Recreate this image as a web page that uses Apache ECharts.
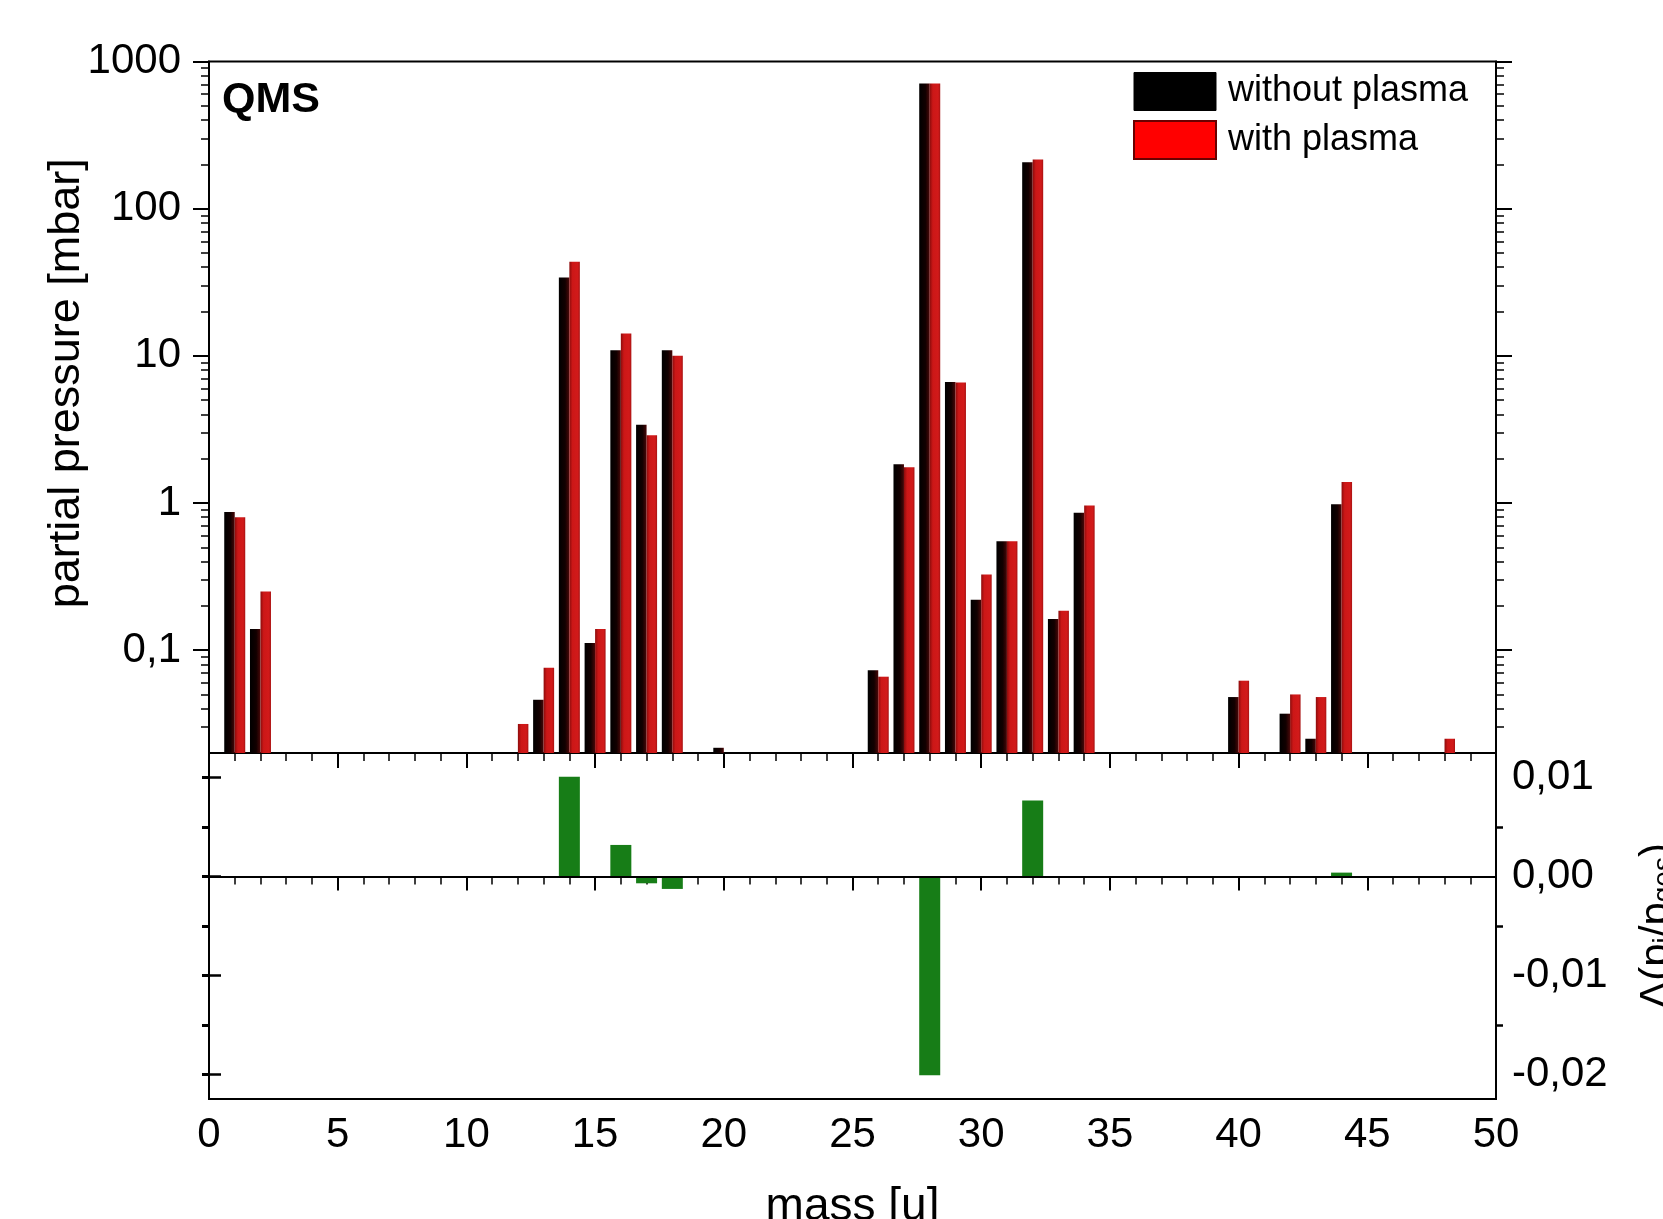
<!DOCTYPE html>
<html>
<head>
<meta charset="utf-8">
<script src="https://cdn.jsdelivr.net/npm/echarts@6/dist/echarts.min.js"></script>
<style>
html,body{margin:0;padding:0;background:#fff;}
#c{width:1663px;height:1219px;}
</style>
</head>
<body>
<div id="c"></div>
<script>
// ---- data ----
const masses = [1, 2, 12, 13, 14, 15, 16, 17, 18, 20, 26, 27, 28, 29, 30, 31, 32, 33, 34, 40, 42, 43, 44, 48];
const withoutPlasma = [0.87, 0.139, null, 0.046, 34, 0.112, 10.9, 3.4, 10.9, 0.0217, 0.073, 1.83, 709, 6.64, 0.22, 0.55, 207, 0.163, 0.857, 0.048, 0.037, 0.025, 0.98, null];
const withPlasma = [0.80, 0.25, 0.0315, 0.076, 43.6, 0.139, 14.2, 2.89, 10.0, null, 0.066, 1.75, 710, 6.6, 0.326, 0.55, 216, 0.185, 0.96, 0.062, 0.050, 0.048, 1.39, 0.025];
const deltaMasses = [14, 16, 17, 18, 28, 32, 44];
const deltaValues = [0.0101, 0.0032, -0.00068, -0.00125, -0.0201, 0.0077, 0.0004];

const logMajorTicks = [0.1, 1, 10, 100, 1000];
const logMinorTicks = [0.03, 0.04, 0.05, 0.06, 0.07, 0.08, 0.09,
  0.2, 0.3, 0.4, 0.5, 0.6, 0.7, 0.8, 0.9,
  2, 3, 4, 5, 6, 7, 8, 9,
  20, 30, 40, 50, 60, 70, 80, 90,
  200, 300, 400, 500, 600, 700, 800, 900];
const deltaMajorTicks = [-0.02, -0.01, 0, 0.01];
const deltaMinorTicks = [-0.015, -0.005, 0.005];
const deltaAllTicks = [-0.02, -0.015, -0.01, -0.005, 0, 0.005, 0.01];

const FONT = 'Liberation Sans, Arial, sans-serif';

const pairs = (xs, ys) => xs.map((x, i) => [x, ys[i]]).filter(p => p[1] != null);

const blackFill = new echarts.graphic.LinearGradient(0, 0, 1, 0, [
  {offset: 0, color: '#000000'}, {offset: 0.6, color: '#120000'}, {offset: 1, color: '#4a0808'}]);
const redFill = new echarts.graphic.LinearGradient(0, 0, 1, 0, [
  {offset: 0, color: '#8c0c0c'}, {offset: 0.3, color: '#cc1717'}, {offset: 0.8, color: '#d21a1a'}, {offset: 1, color: '#a81212'}]);

const chart = echarts.init(document.getElementById('c'), null, {renderer: 'canvas'});

const axisLine = {show: true, lineStyle: {color: '#000', width: 2}};

chart.setOption({
  animation: false,
  backgroundColor: '#fff',
  grid: [
    {left: 209, top: 61.5, width: 1287, height: 691.5, show: true, borderColor: '#000', borderWidth: 2, backgroundColor: 'transparent', outerBoundsMode: 'none', containLabel: false},
    {left: 209, top: 753, width: 1287, height: 346, show: true, borderColor: '#000', borderWidth: 2, backgroundColor: 'transparent', outerBoundsMode: 'none', containLabel: false}
  ],
  legend: {
    orient: 'vertical',
    left: 1133, top: 72, padding: 0,
    itemWidth: 82, itemHeight: 38, itemGap: 9,
    icon: 'rect',
    textStyle: {fontFamily: FONT, fontSize: 36, color: '#000', padding: [0, 0, 0, 7]},
    data: [
      {name: 'without plasma', itemStyle: {color: '#000', borderColor: '#000', borderWidth: 1}},
      {name: 'with plasma', itemStyle: {color: '#ff0000', borderColor: '#6a0000', borderWidth: 2}}
    ]
  },
  xAxis: [
    {
      gridIndex: 0, type: 'value', min: 0, max: 50, interval: 5, position: 'bottom',
      axisLine: axisLine,
      axisTick: {show: true, inside: false, length: 15, lineStyle: {color: '#000', width: 2}},
      minorTick: {show: true, splitNumber: 5, length: 8, lineStyle: {color: '#000', width: 1.5}},
      axisLabel: {show: false}, splitLine: {show: false}, minorSplitLine: {show: false}
    },
    {
      gridIndex: 1, type: 'value', min: 0, max: 50, interval: 5, position: 'bottom',
      axisLine: axisLine,
      axisTick: {show: true, inside: false, length: 14, lineStyle: {color: '#000', width: 2}},
      minorTick: {show: true, splitNumber: 5, length: 8, lineStyle: {color: '#000', width: 1.5}},
      axisLabel: {show: true, margin: 15, fontFamily: FONT, fontSize: 42, color: '#000'},
      splitLine: {show: false}, minorSplitLine: {show: false},
      name: 'mass [u]', nameLocation: 'middle', nameGap: 85, nameMoveOverlap: false,
      nameTextStyle: {fontFamily: FONT, fontSize: 46, color: '#000'}
    }
  ],
  yAxis: [
    { // left major (log)
      gridIndex: 0, type: 'log', min: 0.02, max: 1000, startValue: 0.02, position: 'left',
      axisLine: axisLine,
      axisTick: {show: true, inside: false, length: 16, customValues: logMajorTicks, lineStyle: {color: '#000', width: 2}},
      axisLabel: {show: true, customValues: logMajorTicks, margin: 28, fontFamily: FONT, fontSize: 42, color: '#000',
        formatter: v => String(Number(v.toPrecision(6))).replace('.', ',')},
      splitLine: {show: false},
      name: 'partial pressure [mbar]', nameLocation: 'middle', nameGap: 120, nameRotate: 90, nameMoveOverlap: false,
      nameTextStyle: {fontFamily: FONT, fontSize: 45, color: '#000', padding: [0, 0, 0, 48]}
    },
    { // left minor
      gridIndex: 0, type: 'log', min: 0.02, max: 1000, startValue: 0.02, position: 'left',
      axisLine: {show: false},
      axisTick: {show: true, inside: false, length: 8, customValues: logMinorTicks, lineStyle: {color: '#000', width: 1.5}},
      axisLabel: {show: false}, splitLine: {show: false}
    },
    { // right major
      gridIndex: 0, type: 'log', min: 0.02, max: 1000, startValue: 0.02, position: 'right',
      axisLine: axisLine,
      axisTick: {show: true, inside: false, length: 16, customValues: logMajorTicks, lineStyle: {color: '#000', width: 2}},
      axisLabel: {show: false}, splitLine: {show: false}
    },
    { // right minor
      gridIndex: 0, type: 'log', min: 0.02, max: 1000, startValue: 0.02, position: 'right',
      axisLine: {show: false},
      axisTick: {show: true, inside: false, length: 8, customValues: logMinorTicks, lineStyle: {color: '#000', width: 1.5}},
      axisLabel: {show: false}, splitLine: {show: false}
    },
    { // bottom panel right (labelled)
      gridIndex: 1, type: 'value', min: -0.0225, max: 0.0125, position: 'right',
      axisLine: axisLine,
      axisTick: {show: true, inside: false, length: 12, customValues: deltaMajorTicks, lineStyle: {color: '#000', width: 2.5}},
      axisLabel: {show: true, customValues: deltaMajorTicks, margin: 16, fontFamily: FONT, fontSize: 42, color: '#000',
        formatter: v => v.toFixed(2).replace('.', ',')},
      splitLine: {show: false},
      name: 'Δ(p{s|i}/p{s|ges})', nameLocation: 'middle', nameGap: 140, nameRotate: 90,
      nameTextStyle: {fontFamily: FONT, fontSize: 42, color: '#000',
        rich: {s: {fontFamily: FONT, fontSize: 28, color: '#000', verticalAlign: 'bottom', padding: [14, 0, 0, 0]}}}
    },
    { // bottom panel right minor
      gridIndex: 1, type: 'value', min: -0.0225, max: 0.0125, position: 'right',
      axisLine: {show: false},
      axisTick: {show: true, inside: false, length: 7, customValues: deltaMinorTicks, lineStyle: {color: '#000', width: 2.5}},
      axisLabel: {show: false}, splitLine: {show: false}
    },
    { // bottom panel left ticks
      gridIndex: 1, type: 'value', min: -0.0225, max: 0.0125, position: 'left',
      axisLine: axisLine,
      axisTick: {show: true, inside: false, length: 7, customValues: deltaAllTicks, lineStyle: {color: '#000', width: 3}},
      axisLabel: {show: false}, splitLine: {show: false}
    }
  ],
  graphic: [
    {type: 'text', left: 222, top: 79, style: {text: 'QMS', fontFamily: FONT, fontSize: 43, fontWeight: 'bold', fill: '#000'}}
  ],
  series: [
    {
      name: 'without plasma', type: 'bar', xAxisIndex: 0, yAxisIndex: 0,
      barWidth: 10.5, barGap: '0%',
      itemStyle: {color: blackFill},
      data: pairs(masses, withoutPlasma)
    },
    {
      name: 'with plasma', type: 'bar', xAxisIndex: 0, yAxisIndex: 0,
      barWidth: 10.5, barGap: '0%',
      itemStyle: {color: redFill},
      data: pairs(masses, withPlasma)
    },
    {
      name: 'delta', type: 'bar', xAxisIndex: 1, yAxisIndex: 4,
      barWidth: 21,
      itemStyle: {color: '#177d17'},
      data: pairs(deltaMasses, deltaValues),
      markLine: {
        silent: true, symbol: 'none', label: {show: false},
        lineStyle: {color: '#000', width: 2, type: 'solid'},
        data: [{yAxis: 0}]
      }
    }
  ]
});
</script>
</body>
</html>
